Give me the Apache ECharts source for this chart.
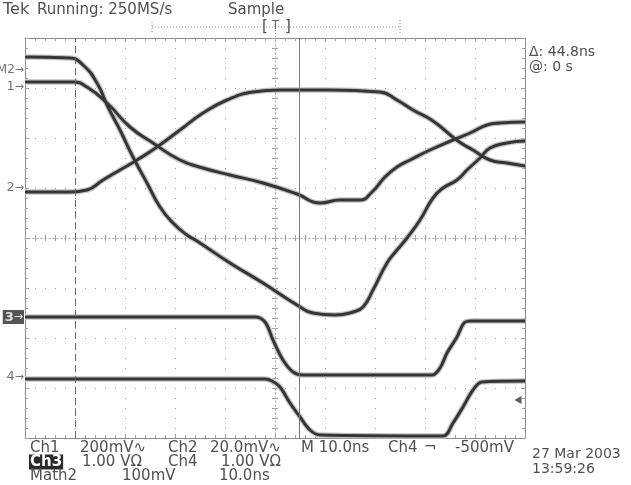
<!DOCTYPE html>
<html>
<head>
<meta charset="utf-8">
<script src="https://cdn.jsdelivr.net/npm/echarts@6/dist/echarts.min.js"></script>
<style>html,body{margin:0;padding:0;background:#fff;}#c{width:631px;height:485px;}</style>
</head>
<body>
<div id="c"></div>
<script>
// time in ns relative to screen centre, amplitude in divisions from centre
const traceM2 = [[-50,3.62],[-41,3.60],[-38.4,3.46],[-35.6,3.10],[-33.4,2.62],[-31,2.16],[-28.4,1.62],[-25.6,1.10],[-23,0.62],[-20.4,0.30],[-17.6,0.06],[-15.6,-0.06],[-9,-0.50],[-2.4,-0.90],[4.4,-1.34],[7.6,-1.50],[12,-1.54],[15.6,-1.48],[17.6,-1.38],[19.6,-1.04],[22.4,-0.50],[24.4,-0.24],[26.4,0.00],[29,0.36],[31.6,0.80],[33.6,1.00],[36.4,1.16],[38.4,1.36],[41,1.60],[43,1.80],[46.4,1.90],[50,1.94]];
const trace1 = [[-50,3.12],[-40.4,3.12],[-37.6,3.02],[-33.6,2.70],[-29,2.22],[-24.4,1.90],[-19,1.56],[-14.4,1.40],[-9,1.26],[-2.4,1.10],[4.4,0.88],[9,0.70],[13,0.76],[17,0.76],[19.4,0.92],[22,1.22],[24.4,1.42],[27,1.56],[31,1.76],[35.6,1.96],[39,2.10],[42.4,2.26],[45,2.30],[50,2.32]];
const trace2 = [[-50,0.92],[-41,0.92],[-37.6,0.96],[-34.4,1.16],[-31,1.36],[-27.6,1.56],[-23.6,1.82],[-19,2.16],[-14.4,2.50],[-9.6,2.76],[-4.4,2.92],[1,2.96],[11,2.96],[21,2.92],[24.4,2.76],[27.6,2.56],[31.6,2.34],[36.6,1.94],[39.6,1.76],[43,1.56],[46.4,1.50],[50,1.44]];
const trace3 = [[-50,-1.58],[-4,-1.58],[-2,-1.68],[-0.4,-2.04],[1.6,-2.44],[3.6,-2.68],[5.6,-2.74],[31.4,-2.74],[33,-2.60],[34.4,-2.30],[36.4,-1.98],[37.8,-1.70],[39.2,-1.66],[50,-1.66]];
const trace4 = [[-50,-2.82],[-2,-2.82],[-0.6,-2.86],[1,-2.98],[3,-3.30],[5,-3.58],[7,-3.84],[9,-3.94],[33.6,-3.96],[35.6,-3.70],[37.6,-3.38],[39.6,-3.04],[41.4,-2.88],[50,-2.86]];

const channelNames = ['M2','1','2','3','4'];
const channelLevels = [3.36, 3.02, 1.0, -1.58, -2.78];
const cursorTimes = [-40, 4.8];
const triggerLevel = [[48.6, -3.24]];

const headerTexts = ['Tek', 'Running: 250MS/s', 'Sample'];
const cursorTexts = ['\u0394: 44.8ns', '@: 0 s'];
const row1 = ['Ch1', '200mV\u223F', 'Ch2', '20.0mV\u223F', 'M 10.0ns', 'Ch4', '\u00AC', '-500mV'];
const row2 = ['Ch3', '1.00 V\u03A9', 'Ch4', '1.00 V\u03A9'];
const row3 = ['Math2', '100mV', '10.0ns'];
const dateTexts = ['27 Mar 2003', '13:59:26'];

const FONT = '"DejaVu Sans"';
const TXT = '#505050';
const GRID = '#a0a0a0';

const chart = echarts.init(document.getElementById('c'), null, {renderer: 'canvas'});

function frameX(pos) {
  return {
    type: 'value', position: pos, min: -50, max: 50, interval: 10,
    axisLine: {show: true, onZero: false, lineStyle: {color: '#8a8a8a', width: 1}},
    axisTick: {show: true, inside: true, length: 4, lineStyle: {color: GRID}},
    minorTick: {show: true, splitNumber: 5, length: 3, lineStyle: {color: GRID}},
    axisLabel: {show: false},
    splitLine: {show: pos === 'bottom', lineStyle: {color: GRID, type: [1, 9], width: 1}},
    minorSplitLine: {show: false}
  };
}
function frameY(pos) {
  return {
    type: 'value', position: pos, min: -4, max: 4, interval: 1,
    axisLine: {show: true, onZero: false, lineStyle: {color: '#8a8a8a', width: 1}},
    axisTick: {show: true, inside: true, length: 4, lineStyle: {color: GRID}},
    minorTick: {show: true, splitNumber: 5, length: 3, lineStyle: {color: GRID}},
    axisLabel: {show: false},
    splitLine: {show: pos === 'left', lineStyle: {color: GRID, type: [1, 9], width: 1}}
  };
}
function centreX(inside) {
  return {
    type: 'value', position: 'bottom', min: -50, max: 50, interval: 10,
    axisLine: {show: true, onZero: true, onZeroAxisIndex: 0, lineStyle: {color: '#b0b0b0', type: [1, 3]}},
    axisTick: {show: true, inside: inside, length: 3, lineStyle: {color: GRID}},
    minorTick: {show: true, splitNumber: 5, length: 3, lineStyle: {color: GRID}},
    axisLabel: {show: false}, splitLine: {show: false}
  };
}
function centreY(inside) {
  return {
    type: 'value', position: 'left', min: -4, max: 4, interval: 1,
    axisLine: {show: true, onZero: true, onZeroAxisIndex: 0, lineStyle: {color: '#b0b0b0', type: [1, 3]}},
    axisTick: {show: true, inside: inside, length: 3, lineStyle: {color: GRID}},
    minorTick: {show: true, splitNumber: 5, length: 3, lineStyle: {color: GRID}},
    axisLabel: {show: false}, splitLine: {show: false}
  };
}

function band(data, analog) {
  const sm = {smooth: analog ? 0.5 : 0.35};
  return [
    Object.assign({type: 'line', data: data, symbol: 'none', z: 3,
     lineStyle: {color: '#c4c4c4', width: 5.5}, silent: true, animation: false}, sm),
    Object.assign({type: 'line', data: data, symbol: 'none', z: 4,
     lineStyle: {color: '#353535', width: 3}, silent: true, animation: false}, sm)
  ];
}

const series = [];
[[traceM2, true], [trace1, true], [trace2, true], [trace3, false], [trace4, false]]
  .forEach(p => band(p[0], p[1]).forEach(s => series.push(s)));

// cursors
series.push({
  type: 'line', data: [], symbol: 'none', animation: false, z: 5,
  markLine: {
    silent: true, symbol: 'none', animation: false, label: {show: false},
    data: [
      {xAxis: cursorTimes[0], lineStyle: {color: '#666', type: [7, 4], width: 1}},
      {xAxis: cursorTimes[1], lineStyle: {color: '#777', type: 'solid', width: 1}}
    ]
  }
});

// channel ground markers on the left edge
const rich = {
  n: {fontFamily: FONT, fontSize: 13, color: TXT},
  m: {fontFamily: FONT, fontSize: 12, color: TXT},
  a: {fontFamily: FONT, fontSize: 11, color: TXT},
  nb: {fontFamily: FONT, fontSize: 13, color: '#fff', fontWeight: 'bold'},
  ab: {fontFamily: FONT, fontSize: 11, color: '#fff'}
};
series.push({
  type: 'scatter', symbolSize: 0, animation: false, z: 6, silent: true,
  data: channelNames.map((n, i) => ({
    value: [-50, channelLevels[i]],
    label: n === '3'
      ? {show: true, position: 'left', distance: 1, formatter: '{nb|' + n + '}{ab|\u2192}', backgroundColor: '#2a2a2a', padding: [1, 1, 0, 2], rich: rich}
      : {show: true, position: 'left', distance: 1, formatter: '{' + (n.length > 1 ? 'm' : 'n') + '|' + n + '}{a|\u2192}', rich: rich}
  }))
});

// trigger level arrow
series.push({
  type: 'scatter', data: triggerLevel, symbol: 'triangle', symbolRotate: 90, symbolSize: [8, 7],
  itemStyle: {color: '#333'}, animation: false, z: 6, silent: true
});

function t(x, y, text, size, extra) {
  return Object.assign({type: 'text', x: x, y: y, silent: true,
    style: {text: text, fill: TXT, font: size + 'px ' + FONT, verticalAlign: 'middle'}}, extra || {});
}

const row1X = [30, 80, 168, 210, 301, 388, 424, 455];
const row2X = [29, 82, 168, 221];
const row3X = [30, 122, 219];

const graphic = [
  t(3, 10, headerTexts[0], 16),
  t(37, 10, headerTexts[1], 15),
  t(228, 10, headerTexts[2], 15),
  {type: 'line', silent: true, shape: {x1: 152, y1: 27, x2: 400, y2: 27}, style: {stroke: '#888', lineDash: [1, 2], lineWidth: 1}},
  {type: 'line', silent: true, shape: {x1: 152, y1: 22, x2: 152, y2: 33}, style: {stroke: '#888', lineDash: [1, 2], lineWidth: 1}},
  {type: 'line', silent: true, shape: {x1: 400, y1: 20, x2: 400, y2: 35}, style: {stroke: '#888', lineDash: [1, 2], lineWidth: 1}},
  {type: 'line', silent: true, shape: {x1: 275.5, y1: 30, x2: 275.5, y2: 38}, style: {stroke: '#888', lineDash: [1, 2], lineWidth: 1}},
  t(262, 27, '[', 15),
  {type: 'text', x: 275.5, y: 26, silent: true, style: {text: 'T', fill: '#666', font: '12px ' + FONT, verticalAlign: 'middle', align: 'center'}},
  t(285, 27, ']', 15),
  t(529, 52, cursorTexts[0], 14),
  t(529, 67, cursorTexts[1], 14),
  t(532, 454, dateTexts[0], 14),
  t(532, 469, dateTexts[1], 14)
];
row1.forEach((s, i) => graphic.push(t(row1X[i], 448, s, 15)));
row2.forEach((s, i) => {
  if (i === 0) {
    graphic.push({type: 'text', x: row2X[i], y: 462, silent: true,
      style: {text: s, fill: '#fff', font: 'bold 15px ' + FONT, verticalAlign: 'middle', backgroundColor: '#2a2a2a', padding: [0, 1, 0, 1]}});
  } else {
    graphic.push(t(row2X[i], 462, s, 15));
  }
});
row3.forEach((s, i) => graphic.push(t(row3X[i], 476, s, 15)));

chart.setOption({
  animation: false,
  backgroundColor: '#ffffff',
  grid: {left: 25, top: 38, width: 500, height: 400, show: false},
  xAxis: [frameX('bottom'), frameX('top'), centreX(true), centreX(false)],
  yAxis: [frameY('left'), frameY('right'), centreY(true), centreY(false)],
  series: series,
  graphic: graphic
});
</script>
</body>
</html>
